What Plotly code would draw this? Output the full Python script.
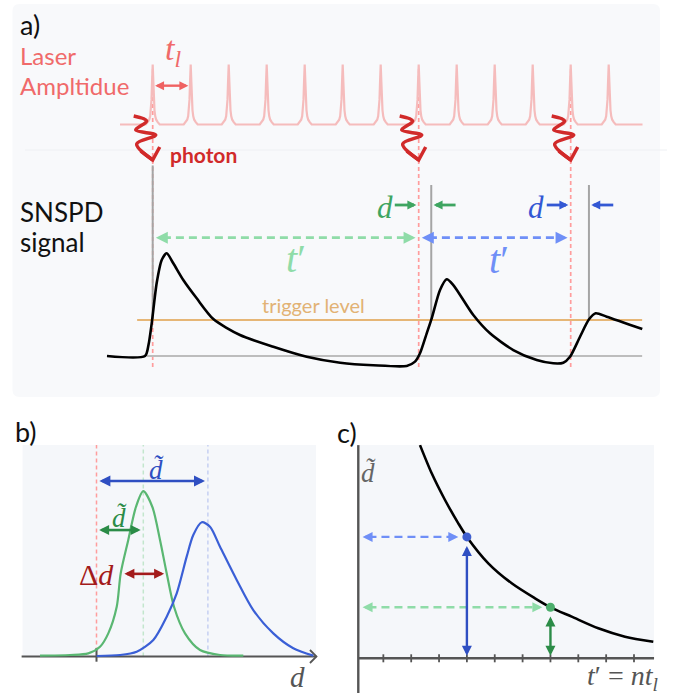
import plotly.graph_objects as go

W, H = 676, 694

# ------------------------------------------------------------------
# DATA (schematic values)
# ------------------------------------------------------------------
# a) laser pulse train; time measured in laser periods t_l
PULSE_TIMES = [0, 1, 2, 3, 4, 5, 6, 7, 8, 9, 10, 11, 12]
PULSE_DT = [-0.184, -0.132, -0.092, -0.066, -0.047, -0.032, -0.016, 0.0,
            0.016, 0.032, 0.047, 0.066, 0.092, 0.132, 0.184]
PULSE_AMP = [0.0, 0.04, 0.08, 0.14, 0.24, 0.41, 0.73, 1.0,
             0.73, 0.41, 0.24, 0.14, 0.08, 0.04, 0.0]
LASER_SPAN = [-0.86, 12.89]

# photon arrivals and detector trigger times (units of t_l)
PHOTON_T = [0, 7, 11]
TRIGGER_T = [0.0, 7.33, 11.48]
GATE_TOP = [1.85, 1.66, 1.66]
TRIGGER_LEVEL = 0.35
BASELINE_SPAN = [-0.15, 12.88]
TRIGGER_SPAN = [-0.41, 12.88]

# SNSPD signal (normalised amplitude)
SIGNAL_T = [-1.203, -0.203, -0.111, -0.026, 0.105, 0.237, 0.368, 0.542, 0.805,
            1.158, 1.595, 2.297, 3.174, 4.053, 4.934, 5.805, 6.684, 6.903,
            7.034, 7.211, 7.342, 7.561, 7.737, 7.911, 8.437, 8.876, 9.489,
            10.105, 10.542, 10.805, 10.982, 11.245, 11.482, 11.658, 11.947, 12.884]
SIGNAL_A = [0.0, 0.0, 0.107, 0.317, 0.709, 0.932, 0.997, 0.900, 0.738,
            0.560, 0.359, 0.204, 0.090, -0.007, -0.065, -0.090, -0.097, -0.055,
            0.026, 0.220, 0.366, 0.641, 0.745, 0.689, 0.398, 0.220, 0.058,
            -0.039, -0.071, -0.065, -0.007, 0.187, 0.356, 0.415, 0.382, 0.262]

# b) delay distributions (d in units of the green mean delay)
GREEN_D = [-1.207, -0.566, -0.175, 0.075, 0.252, 0.432, 0.517, 0.679, 0.844, 1.0,
           1.192, 1.357, 1.500, 1.656, 1.891, 2.212, 2.639, 3.137]
GREEN_P = [0.005, 0.009, 0.019, 0.059, 0.140, 0.301, 0.503, 0.705, 0.906, 1.0,
           0.906, 0.705, 0.503, 0.301, 0.140, 0.039, 0.009, 0.005]
BLUE_D = [0.004, 0.502, 0.859, 1.214, 1.500, 1.714, 1.927, 2.068, 2.248, 2.425,
          2.639, 2.996, 3.350, 3.778, 4.205, 4.632]
BLUE_P = [0.003, 0.009, 0.029, 0.100, 0.241, 0.382, 0.604, 0.735, 0.812, 0.785,
          0.664, 0.463, 0.281, 0.140, 0.050, 0.005]
D_TILDE = [1.0, 2.38]          # mean delays  [green, blue]
N_PERIODS = [7, 4]             # t' / t_l      [green, blue]
DELTA_D_SPAN = [0.54, 1.50]    # width of the green distribution

# c) mean delay versus time since previous photon
CURVE_N = [2.316, 2.736, 3.214, 3.691, 4.0, 4.768, 5.609, 6.445, 7.0,
           7.763, 8.718, 9.677, 10.693]
CURVE_D = [4.18, 3.627, 3.104, 2.647, 2.38, 1.863, 1.471, 1.176, 1.0,
           0.816, 0.588, 0.424, 0.325]
C_TICKS = [1, 2, 3, 4, 5, 6, 7, 8, 9, 10]

# ------------------------------------------------------------------
# scales: (pixel of value 0, pixels per unit)
# ------------------------------------------------------------------
XS = {'x': (152.7, 38.0), 'x2': (96.5, 46.8), 'x3': (355.5, 27.85)}
YS = {'y': (124.5, 60.0), 'y2': (356.0, 103.0), 'y3': (656.5, 165.3), 'y4': (658.3, 51.0)}


def xr(key):
    p0, s = XS[key]
    return [(0 - p0) / s, (W - p0) / s]


def yr(key):
    p0, s = YS[key]
    return [(p0 - H) / s, p0 / s]


def P(px):
    return px / W


def Q(py):
    return 1 - py / H


TEXT_FONT = "Lato"
MATH_FONT = "Liberation Serif"

C_LASER = "#f06a6a"
C_PULSE = "#f5bcbc"
C_PHOTON = "#d12a2a"
C_GUIDE_RED = "#ff9d9d"
C_GREEN_L = "#8fdca8"
C_BLUE_L = "#6f8ff7"
C_GREEN = "#3ea561"
C_BLUE = "#3358d4"
C_GREEN_CURVE = "#5ab772"
C_BLUE_CURVE = "#3a5fd6"
C_GREEN_D = "#2b8c47"
C_BLUE_D = "#2f4fc2"
C_DARKRED = "#a31b1b"
C_GRAY = "#a5a5a5"
C_AXIS = "#555555"
C_TRIG = "#e6b676"

fig = go.Figure()
shapes = []
annotations = []


def add_line(xs, ys, xa, ya, color, width, dash=None, shape='linear', smoothing=1.0):
    ln = dict(color=color, width=width, shape=shape)
    if dash:
        ln['dash'] = dash
    if shape == 'spline':
        ln['smoothing'] = smoothing
    fig.add_trace(go.Scatter(x=xs, y=ys, xaxis=xa, yaxis=ya, mode='lines', line=ln,
                             hoverinfo='skip', showlegend=False))


def add_arrow(x0, y0, x1, y1, xa, ya, color, width, head_px, heads=('end',), dash=None):
    """line from (x0,y0) to (x1,y1) with arrowheads whose tips touch the ends"""
    sx = XS[xa][1]
    sy = YS[ya][1]
    dxp = (x1 - x0) * sx
    dyp = -(y1 - y0) * sy
    L = (dxp ** 2 + dyp ** 2) ** 0.5
    ux, uy = dxp / L, dyp / L
    h0 = head_px * 0.85 if 'start' in heads else 0
    h1 = head_px * 0.85 if 'end' in heads else 0
    add_line([x0 + ux * h0 / sx, x1 - ux * h1 / sx],
             [y0 - uy * h0 / sy, y1 + uy * h1 / sy], xa, ya, color, width, dash)
    scale = head_px / 5.0
    base = dict(text='', showarrow=True, arrowhead=2, arrowcolor=color,
                arrowwidth=width, arrowsize=scale / width, standoff=1.3 * scale,
                xref=xa, yref=ya, axref='pixel', ayref='pixel')
    ln = head_px + 2
    if 'end' in heads:
        annotations.append(dict(base, x=x1, y=y1, ax=-ux * ln, ay=-uy * ln))
    if 'start' in heads:
        annotations.append(dict(base, x=x0, y=y0, ax=ux * ln, ay=uy * ln))


def label(text, xpx, ypx, size, color, family=TEXT_FONT, xanchor='center', yanchor='middle'):
    annotations.append(dict(text=text, x=P(xpx), y=Q(ypx), xref='paper', yref='paper',
                            showarrow=False, xanchor=xanchor, yanchor=yanchor,
                            font=dict(family=family, size=size, color=color)))


def dtilde(xpx, ypx, size, color, family=MATH_FONT):
    # d with a combining tilde, one text
    label('<i>d\u0303</i>', xpx, ypx, size, color, family)


def rounded_rect(x0, y0, x1, y1, r):
    X = lambda v: v / W
    Y = lambda v: 1 - v / H
    return (f"M {X(x0 + r)},{Y(y0)} L {X(x1 - r)},{Y(y0)} Q {X(x1)},{Y(y0)} {X(x1)},{Y(y0 + r)} "
            f"L {X(x1)},{Y(y1 - r)} Q {X(x1)},{Y(y1)} {X(x1 - r)},{Y(y1)} "
            f"L {X(x0 + r)},{Y(y1)} Q {X(x0)},{Y(y1)} {X(x0)},{Y(y1 - r)} "
            f"L {X(x0)},{Y(y0 + r)} Q {X(x0)},{Y(y0)} {X(x0 + r)},{Y(y0)} Z")


# ------------------------------------------------------------------
# panel a
# ------------------------------------------------------------------
shapes.append(dict(type='path', xref='paper', yref='paper', layer='below',
                   path=rounded_rect(12.5, 4, 660, 397, 7),
                   fillcolor='#f8f9fb', line=dict(width=0)))
shapes.append(dict(type='line', xref='paper', yref='paper', layer='below',
                   x0=P(25), x1=P(667), y0=Q(150), y1=Q(150),
                   line=dict(color='#eef0f3', width=1)))

# laser pulse train
lx = [LASER_SPAN[0]]
ly = [0.0]
for t in PULSE_TIMES:
    for dt, a in zip(PULSE_DT, PULSE_AMP):
        lx.append(t + dt)
        ly.append(a)
lx.append(LASER_SPAN[1])
ly.append(0.0)
add_line(lx, ly, 'x', 'y', C_PULSE, 2.2)

# photon guide lines (dashed red) and detector trigger marks (gray)
for t in PHOTON_T:
    shapes.append(dict(type='line', xref='x', yref='y2', layer='below',
                       x0=t, x1=t, y0=-0.107, y1=2.80,
                       line=dict(color=C_GUIDE_RED, width=1.7, dash='4px,3px')))
for t, top in zip(TRIGGER_T, GATE_TOP):
    shapes.append(dict(type='line', xref='x', yref='y2', layer='below',
                       x0=t, x1=t, y0=TRIGGER_LEVEL, y1=top,
                       line=dict(color=C_GRAY, width=2)))

# baseline and trigger level
add_line(BASELINE_SPAN, [0, 0], 'x', 'y2', '#bdbdbd', 2)
add_line(TRIGGER_SPAN, [TRIGGER_LEVEL, TRIGGER_LEVEL], 'x', 'y2', C_TRIG, 2)

# SNSPD signal
add_line(SIGNAL_T, SIGNAL_A, 'x', 'y2', '#000000', 2.6, shape='spline', smoothing=0.7)

# photon squiggles (wavy arrows) above each photon arrival
SQ_X = [-19, -6, -17, 3, -16, 0]
SQ_Y = [44, 39, 30, 25, 16, 0]
HEAD_X = [-12, 0, 7]
HEAD_Y = [9, 0, 13]
TIP_A = 1.903
sx_a = XS['x'][1]
sy_s = YS['y2'][1]
for t in PHOTON_T:
    add_line([t + v / sx_a for v in SQ_X], [TIP_A + v / sy_s for v in SQ_Y], 'x', 'y2',
             C_PHOTON, 3.5, shape='spline', smoothing=1.0)
    add_line([t + v / sx_a for v in HEAD_X], [TIP_A + v / sy_s for v in HEAD_Y], 'x', 'y2',
             C_PHOTON, 3.5)

# t_l arrow
add_arrow(PULSE_TIMES[0], 0.647, PULSE_TIMES[1], 0.647, 'x', 'y', '#ef6262', 2.4, 9,
          heads=('start', 'end'))

# t' arrows (dashed)
TP_A = 1.149
add_arrow(PHOTON_T[0], TP_A, PHOTON_T[1], TP_A, 'x', 'y2', C_GREEN_L, 2.6, 12,
          heads=('start', 'end'), dash='8px,5px')
add_arrow(PHOTON_T[1], TP_A, PHOTON_T[2], TP_A, 'x', 'y2', C_BLUE_L, 2.6, 12,
          heads=('start', 'end'), dash='8px,5px')

# d arrows
D_A = 1.466
for ph, tr, col in [(PHOTON_T[1], TRIGGER_T[1], C_GREEN), (PHOTON_T[2], TRIGGER_T[2], C_BLUE)]:
    add_arrow(ph - 0.63, D_A, ph, D_A, 'x', 'y2', col, 2.8, 9)
    add_arrow(tr + 0.64, D_A, tr, D_A, 'x', 'y2', col, 2.8, 9)

# texts of panel a
label('a)', 18, 25, 27, '#111111', xanchor='left')
label('Laser', 18, 56, 24, C_LASER, xanchor='left')
label('Ampltidue', 18, 86, 24, C_LASER, xanchor='left')
label('<i>t</i><sub><i>l</i></sub>', 173, 51, 34, C_LASER, MATH_FONT)
label('<b>photon</b>', 168, 154, 21, C_PHOTON, xanchor='left')
label('SNSPD', 18, 212, 26, '#111111', xanchor='left')
label('signal', 18, 242, 26, '#111111', xanchor='left')
label('<i>t</i>\u2032', 296, 258, 40, C_GREEN_L, MATH_FONT)
label('<i>t</i>\u2032', 499, 259, 40, C_BLUE_L, MATH_FONT)
label('<i>d</i>', 385, 207, 31, C_GREEN, MATH_FONT)
label('<i>d</i>', 536, 207, 31, C_BLUE, MATH_FONT)
label('trigger level', 260, 305, 20, '#e2b274', xanchor='left')

# ------------------------------------------------------------------
# panel b
# ------------------------------------------------------------------
shapes.append(dict(type='rect', xref='x2', yref='y3', layer='below',
                   x0=-1.58, x1=4.69, y0=0, y1=1.28, fillcolor='#f5f7fa', line=dict(width=0)))
shapes.append(dict(type='line', xref='x2', yref='y3', layer='below', x0=0, x1=0,
                   y0=0.03, y1=1.28, line=dict(color=C_GUIDE_RED, width=1.5, dash='4px,3px')))
shapes.append(dict(type='line', xref='x2', yref='y3', layer='below', x0=D_TILDE[0], x1=D_TILDE[0],
                   y0=0, y1=1.28, line=dict(color='#c3e6cd', width=1.5, dash='4px,3px')))
shapes.append(dict(type='line', xref='x2', yref='y3', layer='below', x0=D_TILDE[1], x1=D_TILDE[1],
                   y0=0, y1=1.28, line=dict(color='#c6d0f2', width=1.5, dash='4px,3px')))

# axis with open arrow and a tick at d = 0
add_line([-1.60, 4.70], [0, 0], 'x2', 'y3', C_AXIS, 2.2)
bx, by_ = XS['x2'][1], YS['y3'][1]
add_line([4.70 - 6.5 / bx, 4.70, 4.70 - 6.5 / bx], [6.5 / by_, 0, -6.5 / by_], 'x2', 'y3', C_AXIS, 1.8)
add_line([0, 0], [8.5 / by_, -5.2 / by_], 'x2', 'y3', C_AXIS, 2)

add_line(GREEN_D, GREEN_P, 'x2', 'y3', C_GREEN_CURVE, 2.2, shape='spline', smoothing=0.8)
add_line(BLUE_D, BLUE_P, 'x2', 'y3', C_BLUE_CURVE, 2.2, shape='spline', smoothing=0.8)

add_arrow(0, 1.062, D_TILDE[1], 1.062, 'x2', 'y3', C_BLUE_D, 2.6, 11, heads=('start', 'end'))
add_arrow(0, 0.765, D_TILDE[0], 0.765, 'x2', 'y3', C_GREEN_D, 2.6, 10, heads=('start', 'end'))
add_arrow(DELTA_D_SPAN[0], 0.50, DELTA_D_SPAN[1], 0.50, 'x2', 'y3', C_DARKRED, 2.6, 10,
          heads=('start', 'end'))

label('b)', 13, 431, 27, '#111111', xanchor='left')
dtilde(156, 470, 27, C_BLUE_D)
dtilde(119, 518, 27, C_GREEN_D)
label('\u0394<i>d</i>', 116, 574, 30, C_DARKRED, MATH_FONT, xanchor='right')
label('<i>d</i>', 297, 677, 29, C_AXIS, MATH_FONT)

# ------------------------------------------------------------------
# panel c
# ------------------------------------------------------------------
shapes.append(dict(type='rect', xref='x3', yref='y4', layer='below',
                   x0=0.10, x1=10.72, y0=0, y1=4.18, fillcolor='#f5f7fa', line=dict(width=0)))
add_line([0.10, 0.10], [4.18, -0.68], 'x3', 'y4', C_AXIS, 2.4)
add_line([0.10, 10.72], [0, 0], 'x3', 'y4', C_AXIS, 2.4)
cy_s = YS['y4'][1]
tx, ty = [], []
for n in C_TICKS:
    tx += [n, n, None]
    ty += [4.0 / cy_s, -4.0 / cy_s, None]
add_line(tx, ty, 'x3', 'y4', C_AXIS, 1.8)

add_line(CURVE_N, CURVE_D, 'x3', 'y4', '#000000', 2.6, shape='spline', smoothing=0.8)

cx_s = XS['x3'][1]
add_arrow(0.16, D_TILDE[1], N_PERIODS[1] - 6 / cx_s, D_TILDE[1], 'x3', 'y4', C_BLUE_L, 2.4, 10,
          heads=('start', 'end'), dash='8px,5px')
add_arrow(0.16, D_TILDE[0], N_PERIODS[0] - 5.5 / cx_s, D_TILDE[0], 'x3', 'y4', C_GREEN_L, 2.4, 10,
          heads=('start', 'end'), dash='8px,5px')
add_arrow(N_PERIODS[1], 0, N_PERIODS[1], D_TILDE[1] - 6.5 / cy_s, 'x3', 'y4', C_BLUE_D, 2.4, 10,
          heads=('start', 'end'))
add_arrow(N_PERIODS[0], 0, N_PERIODS[0], D_TILDE[0] - 6.5 / cy_s, 'x3', 'y4', C_GREEN_D, 2.4, 10,
          heads=('start', 'end'))

fig.add_trace(go.Scatter(x=N_PERIODS, y=D_TILDE, xaxis='x3', yaxis='y4', mode='markers',
                         marker=dict(size=9, color=['#4cae6c', '#3f5fcf']),
                         hoverinfo='skip', showlegend=False))

label('c)', 335, 432, 27, '#111111', xanchor='left')
dtilde(369, 473, 27, '#666666')
label('<i>t</i>\u2032 = <i>nt</i><sub><i>l</i></sub>', 660, 677, 28, C_AXIS, MATH_FONT, xanchor='right')

# ------------------------------------------------------------------
ax_common = dict(visible=False, fixedrange=True, autorange=False, domain=[0, 1])
fig.update_layout(
    width=W, height=H, autosize=False,
    margin=dict(l=0, r=0, t=0, b=0, pad=0),
    paper_bgcolor='white', plot_bgcolor='rgba(0,0,0,0)',
    showlegend=False,
    xaxis=dict(range=xr('x'), **ax_common),
    yaxis=dict(range=yr('y'), **ax_common),
    yaxis2=dict(range=yr('y2'), overlaying='y', **ax_common),
    xaxis2=dict(range=xr('x2'), overlaying='x', **ax_common),
    yaxis3=dict(range=yr('y3'), overlaying='y', **ax_common),
    xaxis3=dict(range=xr('x3'), overlaying='x', **ax_common),
    yaxis4=dict(range=yr('y4'), overlaying='y', **ax_common),
    shapes=shapes,
    annotations=annotations,
)

fig.write_html("out.html", config={'displayModeBar': False, 'staticPlot': True})
